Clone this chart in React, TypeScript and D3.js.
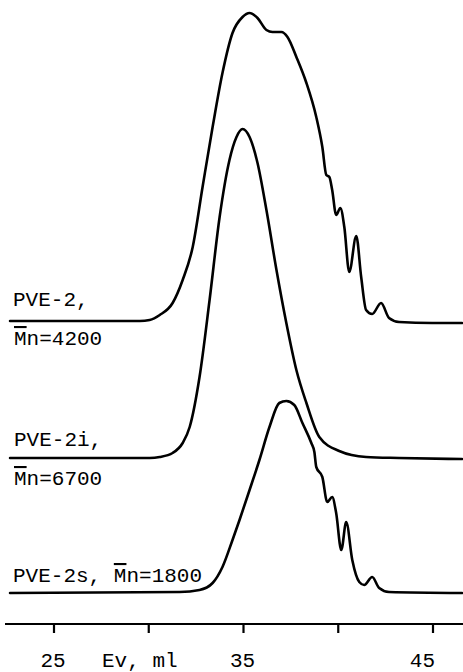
import React from "react";
import * as d3 from "d3";

// Elution volume (ml) and detector response (arbitrary units above each trace's baseline)
const evPVE2 = [22.68, 29.53, 30.05, 30.58, 31.26, 31.79, 32.32, 32.84, 33.37, 33.89, 34.42, 34.95, 35.32, 35.74, 36.21, 36.53, 37.0, 37.32, 37.79, 38.32, 38.84, 39.16, 39.37, 39.53, 39.68, 39.89, 40.11, 40.32, 40.58, 40.95, 41.21, 41.47, 41.79, 42.26, 42.68, 43.21, 44.95, 46.53];
const rPVE2 = [0, 0, 1, 6, 18, 41, 74, 134, 194, 248, 288, 304, 308, 303, 291, 289, 289, 284, 264, 238, 204, 174, 146, 144, 131, 106, 113, 94, 49, 85, 44, 11, 7, 18, 3, -1, -2, -2];

const evPVE2i = [22.68, 30.05, 30.58, 31.26, 31.79, 32.16, 32.68, 33.21, 33.74, 34.26, 34.63, 34.95, 35.32, 35.74, 36.21, 36.74, 37.26, 37.79, 38.32, 39.0, 40.05, 41.47, 43.21, 46.53];
const rPVE2i = [0, 0, 1, 5, 15, 31, 81, 158, 241, 298, 321, 329, 321, 295, 248, 188, 135, 88, 55, 21, 7, 1, 0, -1];

const evPVE2s = [22.68, 31.63, 32.68, 33.37, 33.89, 34.42, 34.79, 35.32, 35.84, 36.37, 36.89, 37.26, 37.68, 38.11, 38.58, 38.74, 38.84, 39.16, 39.42, 39.68, 39.89, 40.16, 40.42, 40.74, 41.11, 41.37, 41.79, 42.16, 42.68, 46.53];
const rPVE2s = [0, 1, 3, 10, 26, 53, 73, 103, 133, 166, 190, 192, 188, 170, 150, 141, 126, 116, 91, 96, 80, 43, 71, 33, 11, 8, 16, 5, 1, 0];

const traceOffsets = [272, 135, 0];
const axisTicks = [25, 30, 35, 40, 45];
const tickLabels = [25, 35, 45];
const axisTitle = "Ev, ml";

const W = 463;
const H = 672;
const FONT = "'Liberation Mono', 'DejaVu Sans Mono', monospace";

export default function App() {
  const x = d3.scaleLinear().domain([25, 45]).range([54, 433]);
  const y = d3.scaleLinear().domain([0, 600]).range([593, -7]);

  const traces = [
    { ev: evPVE2, r: rPVE2, off: traceOffsets[0] },
    { ev: evPVE2i, r: rPVE2i, off: traceOffsets[1] },
    { ev: evPVE2s, r: rPVE2s, off: traceOffsets[2] },
  ];

  const line = d3
    .line<[number, number]>()
    .x((d) => x(d[0]))
    .y((d) => y(d[1]))
    .curve(d3.curveMonotoneX);

  const axisY = 624;
  const xMin = x.invert(5);
  const xMax = x.invert(463);

  const textStyle: React.CSSProperties = { fontFamily: FONT, fontSize: 21, fill: "#000" };
  const over: React.CSSProperties = { textDecoration: "overline" };

  return (
    <svg
      width={W}
      height={H}
      viewBox={`0 0 ${W} ${H}`}
      style={{ position: "absolute", left: 0, top: 0, background: "#fff" }}
    >
      <rect x={0} y={0} width={W} height={H} fill="#fff" />
      {traces.map((t, i) => (
        <path
          key={i}
          d={line(t.ev.map((e, j) => [e, t.r[j] + t.off] as [number, number])) || ""}
          fill="none"
          stroke="#000"
          strokeWidth={2.6}
          strokeLinejoin="round"
          strokeLinecap="round"
        />
      ))}

      {/* x axis */}
      <line x1={x(xMin)} x2={x(xMax)} y1={axisY} y2={axisY} stroke="#000" strokeWidth={2.2} />
      {axisTicks.map((t) => (
        <line key={t} x1={x(t)} x2={x(t)} y1={axisY} y2={axisY + 9} stroke="#000" strokeWidth={2.2} />
      ))}
      {tickLabels.map((t, i) => (
        <text
          key={t}
          x={i === tickLabels.length - 1 ? x(t) + 2 : x(t) - 1}
          y={667}
          textAnchor={i === tickLabels.length - 1 ? "end" : "middle"}
          style={textStyle}
        >
          {t}
        </text>
      ))}
      <text x={102} y={667} style={textStyle}>
        {axisTitle}
      </text>

      {/* trace labels */}
      <text x={13} y={306} style={textStyle}>PVE-2,</text>
      <text x={14} y={345} style={textStyle}>
        <tspan style={over}>M</tspan>n=4200
      </text>
      <text x={14} y={446} style={textStyle}>PVE-2i,</text>
      <text x={14} y={485} style={textStyle}>
        <tspan style={over}>M</tspan>n=6700
      </text>
      <text x={13} y={582} style={textStyle}>
        PVE-2s, <tspan style={over}>M</tspan>n=1800
      </text>
    </svg>
  );
}
